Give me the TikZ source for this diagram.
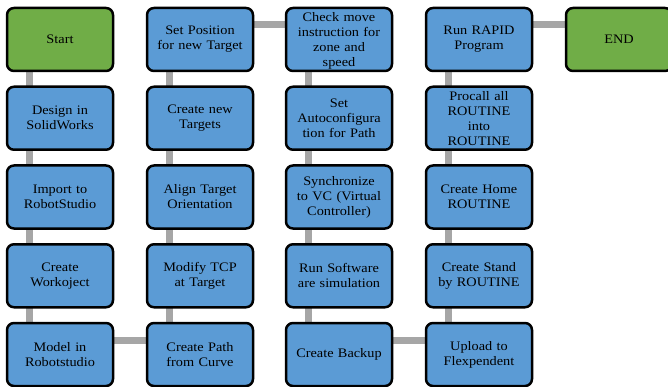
\documentclass[tikz,border=0pt]{standalone}
\usepackage{fontspec}
\setmainfont{Liberation Serif}[FakeStretch=1.1]
\usepackage{xcolor}
\usepackage{tikz}
\usetikzlibrary{backgrounds}
\definecolor{boxblue}{HTML}{5B9BD5}
\definecolor{boxgreen}{HTML}{70AD47}
\definecolor{linkgray}{HTML}{A6A6A6}
\begin{document}
\begin{tikzpicture}
				[x= 1pt, y= -1pt, every node/.style = {draw=black, line width=2.5pt, rounded corners=7pt,
				fill=boxblue, text width=98pt, inner xsep=4pt, inner ysep=2pt, minimum height=63pt,
				align=center, font=\fontsize{13}{15}\selectfont},
				term/.style = {fill=boxgreen},
				tall/.style = {inner ysep=0pt, text height=14pt, text depth=49pt},
				link/.style = {draw=linkgray, line width=7pt}]
				\useasboundingbox (0,0) rectangle (668,387);
				\node[term] (start) at (60,39.5) {Start};
				\node (design) at (60,118.25) {Design in\\SolidWorks};
				\node (import) at (60,197) {Import to\\RobotStudio};
				\node (wobj) at (60,275.75) {Create\\Workoject};
				\node (model) at (60,354.5) {Model in\\Robotstudio};
				\node (setpos) at (200,39.5) {Set Position\\for new Target};
				\node (newtgt) at (200,118.25) {Create new\\Targets};
				\node (align) at (200,197) {Align Target\\Orientation};
				\node (tcp) at (200,275.75) {Modify TCP\\at Target};
				\node (path) at (200,354.5) {Create Path\\from Curve};
				\node[tall] (check) at (339,39.5) {Check move\\instruction for\\zone and\\speed};
				\node (autocfg) at (339,118.25) {Set\\Autoconfigura\\tion for Path};
				\node (sync) at (339,197) {Synchronize\\to VC (Virtual\\Controller)};
				\node (sim) at (339,275.75) {Run Software\\are simulation};
				\node (backup) at (339,354.5) {Create Backup};
				\node (rapid) at (479,39.5) {Run RAPID\\Program};
				\node[tall] (procall) at (479,118.25) {Procall all\\ROUTINE\\into\\ROUTINE};
				\node (home) at (479,197) {Create Home\\ROUTINE};
				\node (stand) at (479,275.75) {Create Stand\\by ROUTINE};
				\node (upload) at (479,354.5) {Upload to\\Flexpendent};
				\node[term] (end) at (619,39.5) {END};
				\begin{pgfonlayer}{background}
					\draw[link] ([xshift=-31pt]start.center)--([xshift=-31pt]model.center);
					\draw[link] ([yshift=14.5pt]model.center)--([yshift=14.5pt]path.center);
					\draw[link] ([xshift=-31pt]path.center)--([xshift=-31pt]setpos.center);
					\draw[link] ([yshift=14.5pt]setpos.center)--([yshift=14.5pt]check.center);
					\draw[link] ([xshift=-31pt]check.center)--([xshift=-31pt]backup.center);
					\draw[link] ([yshift=14.5pt]backup.center)--([yshift=14.5pt]upload.center);
					\draw[link] ([xshift=-31pt]upload.center)--([xshift=-31pt]rapid.center);
					\draw[link] ([yshift=14.5pt]rapid.center)--([yshift=14.5pt]end.center);
				\end{pgfonlayer}
			\end{tikzpicture}
\end{document}
